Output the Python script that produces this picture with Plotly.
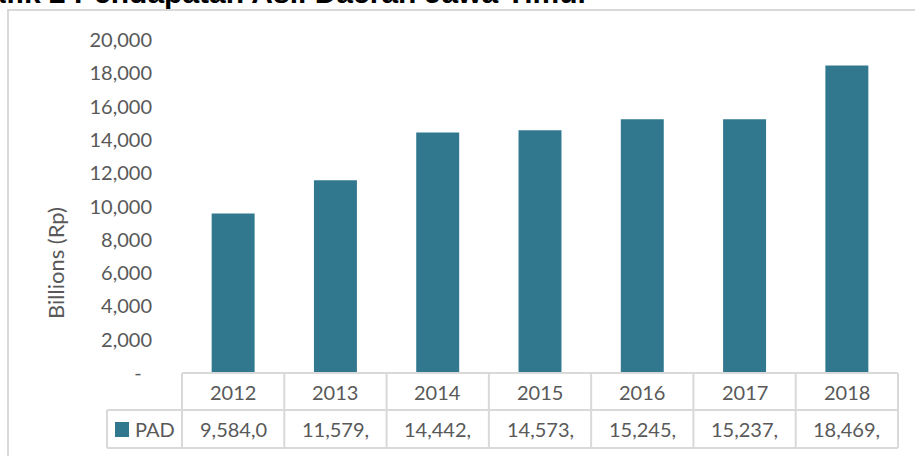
import plotly.graph_objects as go

# ---- data ----
years = ["2012", "2013", "2014", "2015", "2016", "2017", "2018"]
pad_values = [9584.0, 11579, 14442, 14573, 15245, 15237, 18469]
table_labels = ["9,584,0", "11,579,", "14,442,", "14,573,", "15,245,", "15,237,", "18,469,"]
series_name = "PAD"
y_tick_vals = [0, 2000, 4000, 6000, 8000, 10000, 12000, 14000, 16000, 18000, 20000]
y_tick_text = ["-\u00a0\u00a0", "2,000", "4,000", "6,000", "8,000", "10,000",
               "12,000", "14,000", "16,000", "18,000", "20,000"]
title_text = "Grafik 2 Pendapatan Asli Daerah Jawa Timur"
y_title = "Billions (Rp)"

# ---- style ----
BAR = "#31788F"
TXT = "#595959"
GRID = "#D9D9D9"
FONT = "Lato"
W, H = 915, 456
L, R, T, B = 182, 17, 40, 83
PW, PH = W - L - R, H - T - B


def px_x(p):
    return (p - L) / PW


def px_y(p):
    return (H - B - p) / PH


fig = go.Figure()
fig.add_trace(go.Bar(x=years, y=pad_values, name=series_name,
                     marker=dict(color=BAR, line=dict(width=0)),
                     showlegend=False))

n = len(years)
shapes = []
row1_top, row1_bot, row2_bot = 373, 410, 448
shapes.append(dict(type="line", xref="paper", yref="paper", x0=0, x1=1,
                   y0=px_y(row1_top), y1=px_y(row1_top), line=dict(color=GRID, width=2)))
for yy in (row1_bot, row2_bot):
    shapes.append(dict(type="line", xref="paper", yref="paper", x0=px_x(107), x1=1,
                       y0=px_y(yy), y1=px_y(yy), line=dict(color=GRID, width=2)))
for i in range(n + 1):
    shapes.append(dict(type="line", xref="paper", yref="paper", x0=i / n, x1=i / n,
                       y0=px_y(row1_top), y1=px_y(row2_bot), line=dict(color=GRID, width=2)))
shapes.append(dict(type="line", xref="paper", yref="paper", x0=px_x(107), x1=px_x(107),
                   y0=px_y(row1_bot), y1=px_y(row2_bot), line=dict(color=GRID, width=2)))
shapes.append(dict(type="rect", xref="paper", yref="paper", x0=px_x(115), x1=px_x(129),
                   y0=px_y(437), y1=px_y(422), fillcolor=BAR, line=dict(width=0)))
shapes.append(dict(type="rect", xref="paper", yref="paper", x0=px_x(8), x1=px_x(930),
                   y0=px_y(470), y1=px_y(10), line=dict(color=GRID, width=2),
                   fillcolor="rgba(0,0,0,0)", layer="below"))

annotations = []
for i, (yr, lab) in enumerate(zip(years, table_labels)):
    cx = (i + 0.5) / n
    annotations.append(dict(x=cx, xref="paper", y=px_y((row1_top + row1_bot) / 2), yref="paper",
                            text=yr, showarrow=False, xanchor="center", yanchor="middle",
                            font=dict(family=FONT, size=20, color=TXT)))
    annotations.append(dict(x=cx, xref="paper", y=px_y((row1_bot + row2_bot) / 2), yref="paper",
                            text=lab, showarrow=False, xanchor="center", yanchor="middle",
                            font=dict(family=FONT, size=20, color=TXT)))
annotations.append(dict(x=px_x(133), xref="paper", y=px_y((row1_bot + row2_bot) / 2), yref="paper",
                        text=series_name, showarrow=False, xanchor="left", yanchor="middle",
                        font=dict(family=FONT, size=20, color=TXT)))
annotations.append(dict(x=px_x(55), xref="paper", y=px_y(263), yref="paper",
                        text=y_title, showarrow=False, textangle=-90,
                        xanchor="center", yanchor="middle",
                        font=dict(family=FONT, size=22, color=TXT)))
annotations.append(dict(x=px_x(592), xref="paper", y=px_y(-7), yref="paper",
                        text="<b>" + title_text + "</b>", showarrow=False,
                        xanchor="right", yanchor="middle",
                        font=dict(family="Liberation Sans", size=30, color="#000000")))

fig.update_layout(
    width=W, height=H, autosize=False,
    margin=dict(l=L, r=R, t=T, b=B, pad=0),
    paper_bgcolor="white", plot_bgcolor="white",
    bargap=0.58,
    shapes=shapes, annotations=annotations,
    xaxis=dict(type="category", range=[-0.5, n - 0.5], showticklabels=False,
               showgrid=False, zeroline=False, showline=False, ticks=""),
    yaxis=dict(range=[0, 20000], tickvals=y_tick_vals, ticktext=y_tick_text,
               showgrid=False, zeroline=False, showline=False, ticks="",
               ticklabelstandoff=29,
               tickfont=dict(family=FONT, size=20, color=TXT)),
)

fig.write_html("out.html")
